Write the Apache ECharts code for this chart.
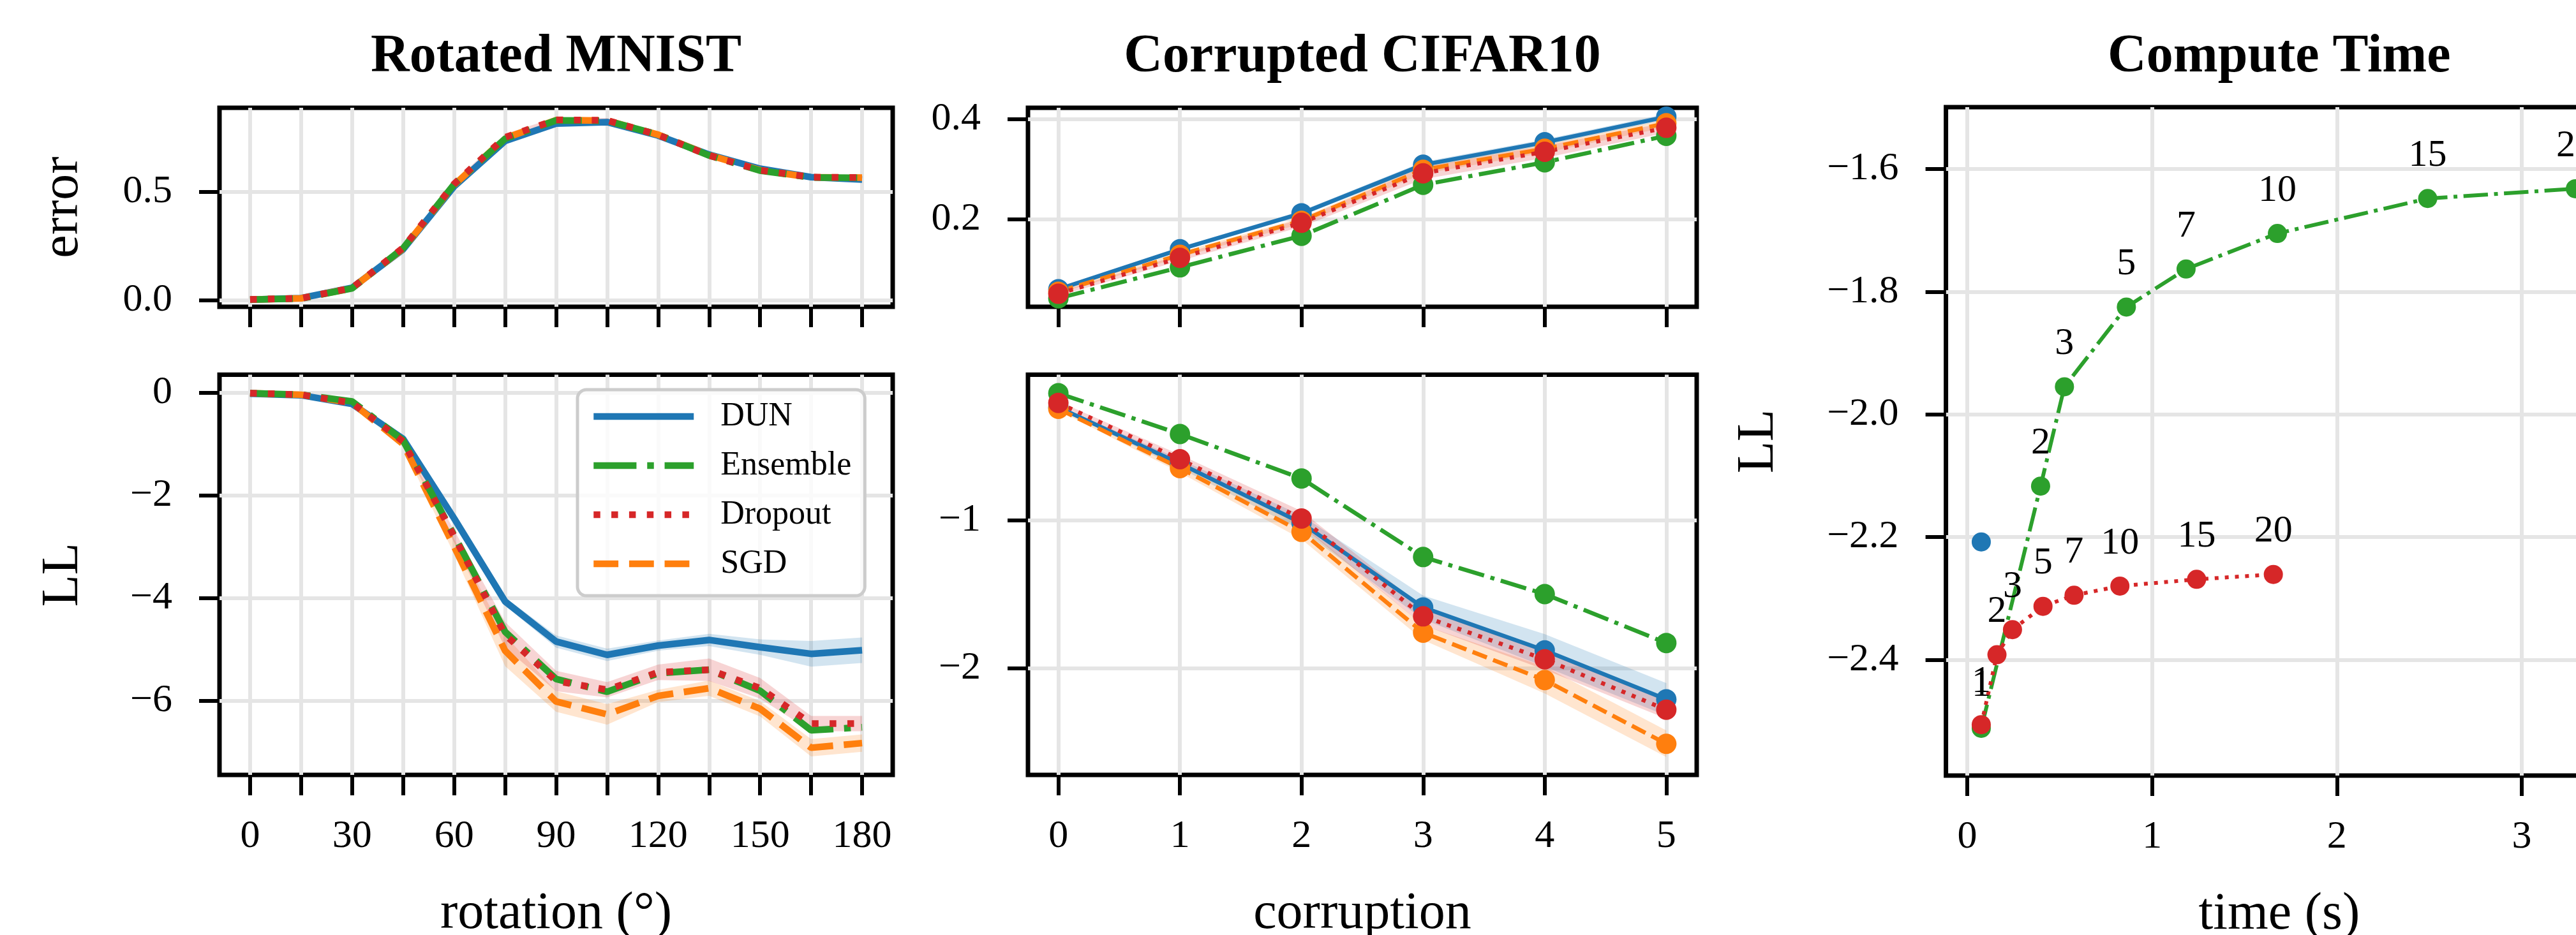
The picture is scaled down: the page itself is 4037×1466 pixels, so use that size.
<!DOCTYPE html>
<html lang="en">
<head>
  <meta charset="UTF-8">
  <title>DUN results</title>
  <style>html, body { margin: 0; padding: 0; background: #fff; }</style>
</head>
<body>
<div id="main" style="width:4037px; height:1466px;"></div>

<script src="https://fastly.jsdelivr.net/npm/echarts@6/dist/echarts.min.js"></script>

<script>
// ---- Rotated MNIST ----
var rotations = [0, 15, 30, 45, 60, 75, 90, 105, 120, 135, 150, 165, 180];
var rotLabels = [0, 30, 60, 90, 120, 150, 180];
var rotErrTicks = [0, 0.5];
var rotLLTicks = [-6, -4, -2, 0];

var rotErrDUN  = [0.003, 0.010, 0.058, 0.235, 0.525, 0.735, 0.815, 0.822, 0.760, 0.672, 0.607, 0.568, 0.557];
var rotErrEns  = [0.003, 0.008, 0.055, 0.240, 0.535, 0.745, 0.830, 0.828, 0.764, 0.668, 0.598, 0.567, 0.565];
var rotErrDrop = [0.004, 0.009, 0.057, 0.242, 0.537, 0.752, 0.832, 0.830, 0.763, 0.668, 0.600, 0.568, 0.566];
var rotErrSGD  = [0.003, 0.009, 0.056, 0.238, 0.532, 0.748, 0.831, 0.829, 0.764, 0.670, 0.600, 0.567, 0.566];
var rotErrStdDrop = [0, 0, 0.003, 0.008, 0.010, 0.015, 0.012, 0.010, 0.008, 0.006, 0.005, 0.004, 0.004];

var rotLLDUN  = [-0.02, -0.05, -0.22, -0.90, -2.45, -4.07, -4.85, -5.11, -4.93, -4.82, -4.96, -5.09, -5.02];
var rotLLEns  = [-0.01, -0.04, -0.17, -0.93, -2.78, -4.66, -5.58, -5.83, -5.47, -5.40, -5.81, -6.58, -6.52];
var rotLLDrop = [-0.01, -0.04, -0.20, -0.95, -2.80, -4.72, -5.62, -5.79, -5.45, -5.40, -5.76, -6.45, -6.45];
var rotLLSGD  = [-0.01, -0.04, -0.20, -1.00, -3.00, -5.03, -6.02, -6.27, -5.91, -5.76, -6.16, -6.92, -6.83];
var rotLLStdDUN  = [0.01, 0.01, 0.02, 0.04, 0.06, 0.08, 0.12, 0.12, 0.10, 0.12, 0.15, 0.25, 0.25];
var rotLLStdDrop = [0.01, 0.01, 0.03, 0.06, 0.12, 0.25, 0.20, 0.15, 0.15, 0.22, 0.20, 0.15, 0.15];
var rotLLStdSGD  = [0.01, 0.01, 0.03, 0.06, 0.15, 0.30, 0.20, 0.20, 0.12, 0.15, 0.15, 0.17, 0.17];

// ---- Corrupted CIFAR10 ----
var corruptions = [0, 1, 2, 3, 4, 5];
var corrErrTicks = [0.2, 0.4];
var corrLLTicks = [-2, -1];

var corrErrDUN  = [0.060, 0.140, 0.212, 0.309, 0.354, 0.405];
var corrErrEns  = [0.042, 0.104, 0.167, 0.269, 0.314, 0.367];
var corrErrDrop = [0.051, 0.123, 0.193, 0.292, 0.335, 0.383];
var corrErrSGD  = [0.055, 0.129, 0.197, 0.299, 0.341, 0.392];
var corrErrStdDUN  = [0.003, 0.004, 0.005, 0.006, 0.006, 0.006];
var corrErrStdDrop = [0.004, 0.006, 0.008, 0.012, 0.012, 0.010];
var corrErrStdSGD  = [0.003, 0.005, 0.006, 0.008, 0.008, 0.008];

var corrLLDUN  = [-0.24, -0.62, -1.02, -1.59, -1.88, -2.21];
var corrLLEns  = [-0.145, -0.42, -0.72, -1.25, -1.50, -1.83];
var corrLLDrop = [-0.21, -0.59, -0.99, -1.65, -1.94, -2.28];
var corrLLSGD  = [-0.25, -0.65, -1.08, -1.76, -2.08, -2.51];
var corrLLStdDUN  = [0.01, 0.03, 0.05, 0.08, 0.11, 0.11];
var corrLLStdDrop = [0.01, 0.03, 0.05, 0.06, 0.07, 0.06];
var corrLLStdSGD  = [0.01, 0.03, 0.05, 0.05, 0.09, 0.09];

// ---- Compute Time ----
var timeTicks = [0, 1, 2, 3];
var timeLLTicks = [-2.4, -2.2, -2.0, -1.8, -1.6];
var ensN    = [1, 2, 3, 5, 7, 10, 15, 20];
var ensTime = [0.076, 0.397, 0.526, 0.861, 1.184, 1.678, 2.491, 3.29];
var ensLL   = [-2.512, -2.117, -1.955, -1.825, -1.763, -1.705, -1.648, -1.632];
var dropN    = [1, 2, 3, 5, 7, 10, 15, 20];
var dropTime = [0.076, 0.161, 0.245, 0.410, 0.578, 0.826, 1.241, 1.656];
var dropLL   = [-2.506, -2.392, -2.351, -2.313, -2.295, -2.280, -2.269, -2.261];
var dunTime = [0.076];
var dunLL   = [-2.208];

var methods = ['DUN', 'Ensemble', 'Dropout', 'SGD'];
var titles = ['Rotated MNIST', 'Corrupted CIFAR10', 'Compute Time'];

// ---- styling ----
var FONT = 'Liberation Serif';
var COLORS = { DUN: '#1f77b4', Ensemble: '#2ca02c', Dropout: '#d62728', SGD: '#ff7f0e' };
var GRIDS = [
  { left: 344,    top: 169,   width: 1055,   height: 312 },
  { left: 344,    top: 587.5, width: 1055,   height: 627.5 },
  { left: 1611,   top: 169,   width: 1048,   height: 312 },
  { left: 1611,   top: 587.5, width: 1048,   height: 627.5 },
  { left: 3049.6, top: 168,   width: 1044.4, height: 1048 }
];

function fmt(v, dec) {
  var s = Math.abs(v).toFixed(dec);
  return v < 0 ? '\u2212' + s : s;
}

function dashFor(name, lw) {
  if (name === 'Ensemble') return [6.4 * lw, 1.6 * lw, lw, 1.6 * lw];
  if (name === 'Dropout') return [lw, 1.65 * lw];
  if (name === 'SGD') return [3.7 * lw, 1.6 * lw];
  return 'solid';
}

function pairs(xs, ys, extra) {
  return xs.map(function (x, i) {
    return extra ? [x, ys[i], extra[i]] : [x, ys[i]];
  });
}

function xAxisDef(grid, min, max, ticks, labels, dec, name) {
  return {
    type: 'value', gridIndex: grid, min: min, max: max,
    name: name || '', nameLocation: 'middle', nameGap: 177,
    nameTextStyle: { fontFamily: FONT, fontSize: 82, lineHeight: 82, color: '#000' },
    axisLine: { show: false, onZero: false },
    axisTick: { show: true, customValues: ticks, length: 32, lineStyle: { color: '#000', width: 6 } },
    axisLabel: {
      show: !!labels, customValues: labels || ticks, margin: 66,
      fontFamily: FONT, fontSize: 62, lineHeight: 62, color: '#000',
      formatter: function (v) { return fmt(v, dec); }
    },
    splitLine: { show: true, lineStyle: { color: '#e5e5e5', width: 6 } }
  };
}

function yAxisDef(grid, min, max, ticks, dec, name, nameGap) {
  return {
    type: 'value', gridIndex: grid, min: min, max: max,
    name: name, nameLocation: 'middle', nameGap: nameGap,
    nameTextStyle: { fontFamily: FONT, fontSize: 82, lineHeight: 82, color: '#000' },
    axisLine: { show: false, onZero: false },
    axisTick: { show: true, customValues: ticks, length: 32, lineStyle: { color: '#000', width: 6 } },
    axisLabel: {
      show: true, customValues: ticks, margin: 74,
      fontFamily: FONT, fontSize: 62, color: '#000',
      formatter: function (v) { return fmt(v, dec); }
    },
    splitLine: { show: true, lineStyle: { color: '#e5e5e5', width: 6 } }
  };
}

// only the Rotated MNIST series carry the plain method name, so the legend uses them
function lineSeries(method, grid, xs, ys, lw, marker) {
  return {
    name: grid <= 1 ? method : method + ' #' + grid,
    type: 'line', xAxisIndex: grid, yAxisIndex: grid,
    data: pairs(xs, ys),
    symbol: marker ? 'circle' : 'none', symbolSize: marker || 0, showSymbol: !!marker,
    itemStyle: { color: COLORS[method], opacity: 1 },
    lineStyle: { color: COLORS[method], width: lw, type: dashFor(method, lw), cap: 'butt' },
    emphasis: { disabled: true }, silent: true, animation: false, z: 3
  };
}

// mean +/- std band drawn as one polygon through the axis scales
function bandSeries(method, grid, xs, mean, std) {
  var rows = xs.map(function (x, i) { return [x, mean[i] - std[i], mean[i] + std[i]]; });
  var fill = echarts.color.modifyAlpha(COLORS[method], 0.2);
  return {
    name: method + ' band #' + grid, type: 'custom',
    xAxisIndex: grid, yAxisIndex: grid,
    data: rows, encode: { x: 0, y: [1, 2] },
    silent: true, animation: false, z: 1, clip: true,
    renderItem: function (params, api) {
      if (params.dataIndex !== 0) return;
      var upper = rows.map(function (r) { return api.coord([r[0], r[2]]); });
      var lower = rows.map(function (r) { return api.coord([r[0], r[1]]); }).reverse();
      return {
        type: 'polygon',
        shape: { points: upper.concat(lower) },
        style: { fill: fill, stroke: null }
      };
    }
  };
}

function labelledSeries(method, grid, xs, ys, ns, lw) {
  var s = lineSeries(method, grid, xs, ys, lw, 30);
  s.data = pairs(xs, ys, ns);
  s.label = {
    show: true, position: 'top', distance: 22,
    fontFamily: FONT, fontSize: 60, color: '#000',
    formatter: function (p) { return p.value[2]; }
  };
  return s;
}

var series = [
  bandSeries('Dropout', 0, rotations, rotErrDrop, rotErrStdDrop),
  bandSeries('DUN', 1, rotations, rotLLDUN, rotLLStdDUN),
  bandSeries('SGD', 1, rotations, rotLLSGD, rotLLStdSGD),
  bandSeries('Dropout', 1, rotations, rotLLDrop, rotLLStdDrop),
  bandSeries('DUN', 2, corruptions, corrErrDUN, corrErrStdDUN),
  bandSeries('SGD', 2, corruptions, corrErrSGD, corrErrStdSGD),
  bandSeries('Dropout', 2, corruptions, corrErrDrop, corrErrStdDrop),
  bandSeries('DUN', 3, corruptions, corrLLDUN, corrLLStdDUN),
  bandSeries('SGD', 3, corruptions, corrLLSGD, corrLLStdSGD),
  bandSeries('Dropout', 3, corruptions, corrLLDrop, corrLLStdDrop)
];

// Rotated MNIST
[[1, rotLLDUN, rotLLEns, rotLLDrop, rotLLSGD], [0, rotErrDUN, rotErrEns, rotErrDrop, rotErrSGD]].forEach(function (p) {
  series.push(lineSeries('DUN', p[0], rotations, p[1], 10.5));
  series.push(lineSeries('SGD', p[0], rotations, p[4], 10.5));
  series.push(lineSeries('Ensemble', p[0], rotations, p[2], 10.5));
  series.push(lineSeries('Dropout', p[0], rotations, p[3], 10.5));
});

// Corrupted CIFAR10
[[2, corrErrDUN, corrErrEns, corrErrDrop, corrErrSGD], [3, corrLLDUN, corrLLEns, corrLLDrop, corrLLSGD]].forEach(function (p) {
  series.push(lineSeries('DUN', p[0], corruptions, p[1], 6.5, 32));
  series.push(lineSeries('Ensemble', p[0], corruptions, p[2], 6.5, 32));
  series.push(lineSeries('SGD', p[0], corruptions, p[4], 6.5, 32));
  series.push(lineSeries('Dropout', p[0], corruptions, p[3], 6.5, 32));
});

// Compute Time
series.push(labelledSeries('Ensemble', 4, ensTime, ensLL, ensN, 6));
series.push(labelledSeries('Dropout', 4, dropTime, dropLL, dropN, 6));
series.push({
  name: 'DUN #4', type: 'scatter', xAxisIndex: 4, yAxisIndex: 4,
  data: pairs(dunTime, dunLL), symbolSize: 30,
  itemStyle: { color: COLORS.DUN, opacity: 1 }, silent: true, z: 3
});

var grids = GRIDS.map(function (g) {
  return {
    left: g.left, top: g.top, width: g.width, height: g.height,
    show: true, borderColor: '#000', borderWidth: 7, backgroundColor: 'transparent',
    containLabel: false, outerBoundsMode: 'none'
  };
});

var graphics = titles.map(function (t, i) {
  var g = GRIDS[i === 0 ? 0 : (i === 1 ? 2 : 4)];
  return {
    type: 'text', x: g.left + g.width / 2, y: 90, silent: true,
    style: {
      text: t, textAlign: 'center', textVerticalAlign: 'middle',
      fontFamily: FONT, fontWeight: 'bold', fontSize: 84, fill: '#000'
    }
  };
});

var option = {
  backgroundColor: '#fff',
  animation: false,
  graphic: graphics,
  grid: grids,
  xAxis: [
    xAxisDef(0, -9, 189, rotations, null, 0),
    xAxisDef(1, -9, 189, rotations, rotLabels, 0, 'rotation (\u00b0)'),
    xAxisDef(2, -0.25, 5.25, corruptions, null, 0),
    xAxisDef(3, -0.25, 5.25, corruptions, corruptions, 0, 'corruption'),
    xAxisDef(4, -0.115, 3.49, timeTicks, timeTicks, 0, 'time (s)')
  ],
  yAxis: [
    yAxisDef(0, -0.03, 0.888, rotErrTicks, 1, 'error', 204),
    yAxisDef(1, -7.45, 0.35, rotLLTicks, 0, 'LL', 204),
    yAxisDef(2, 0.025, 0.423, corrErrTicks, 1, '', 100),
    yAxisDef(3, -2.72, -0.02, corrLLTicks, 0, '', 100),
    yAxisDef(4, -2.589, -1.499, timeLLTicks, 1, 'LL', 252)
  ],
  legend: {
    data: methods, orient: 'vertical', left: 905, top: 611,
    selectedMode: false,
    itemWidth: 157, itemHeight: 20, itemGap: 21,
    padding: [14, 21, 22, 20],
    backgroundColor: 'rgba(255,255,255,0.8)',
    borderColor: '#cccccc', borderWidth: 5, borderRadius: 14,
    itemStyle: { opacity: 0, borderWidth: 0 },
    lineStyle: { width: 10.5, opacity: 1 },
    textStyle: { fontFamily: FONT, fontSize: 52, lineHeight: 56, color: '#000', padding: [0, 0, 0, 37] }
  },
  series: series
};

var chart = echarts.init(document.getElementById('main'));
chart.setOption(option);
</script>
</body>
</html>
